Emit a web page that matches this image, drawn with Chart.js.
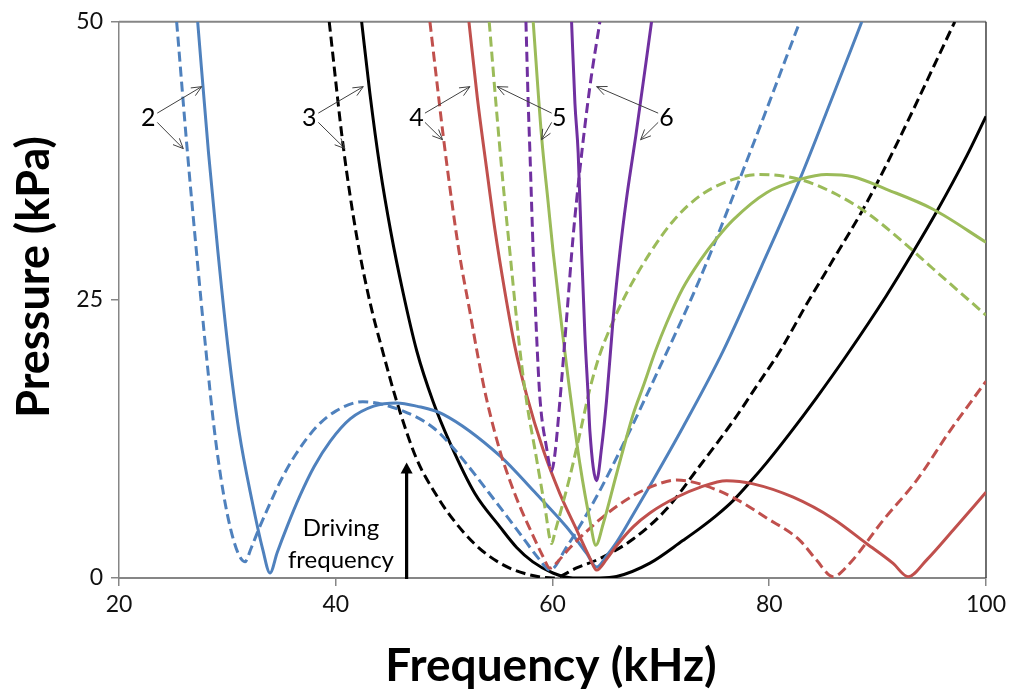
<!DOCTYPE html>
<html><head><meta charset="utf-8">
<script src="https://cdn.jsdelivr.net/npm/chart.js@4/dist/chart.umd.min.js"></script>
<style>html,body{margin:0;padding:0;background:#fff;}canvas{display:block}</style>
</head><body>
<canvas id="c" width="1011" height="693"></canvas>
<script>
// ---------- data (frequency kHz, pressure kPa) ----------
const mode2SolidFreq = [27.26, 28.26, 29.13, 30.10, 31.07, 32.27, 33.28, 33.93, 34.6, 35.5, 36.7, 38.0, 39.5, 41.33, 43.5, 45.62, 47.46, 49.92, 55.15, 58.22, 61.30, 63.15, 64.07, 65.0, 65.91, 67.44, 68.99, 72.06, 75.74, 79.28, 82.82, 85.7, 88.54];
const mode2SolidPres = [50, 38.21, 29.29, 20.36, 13.21, 6.96, 2.5, 0.45, 2.3, 4.6, 7.4, 10.0, 12.3, 14.3, 15.45, 15.74, 15.45, 14.71, 10.98, 7.86, 4.58, 2.21, 0.98, 2.0, 3.2, 5.7, 8.3, 13.6, 20.4, 28.0, 35.83, 42.9, 50];

const mode2DashFreq = [25.32, 26.32, 27.15, 28.03, 28.81, 29.59, 30.33, 31.07, 31.62, 32.2, 32.9, 33.93, 35.0, 36.3, 38.24, 40.0, 42.5, 46.23, 49.0, 50.54, 55.15, 56.99, 58.84, 59.76, 61.30, 62.83, 64.37, 66.83, 69.29, 73.60, 78.21, 82.82];
const mode2DashPres = [50, 38.21, 29.29, 20.36, 13.21, 7.86, 4.29, 2.05, 1.46, 2.7, 4.4, 6.7, 8.9, 11.1, 13.6, 15.0, 15.85, 15.0, 13.51, 12.03, 6.37, 3.99, 1.61, 0.71, 2.79, 5.18, 7.86, 12.62, 17.68, 26.9, 38.21, 50];

const mode3SolidFreq = [42.39, 43.15, 44.08, 45.09, 46.20, 47.49, 48.97, 50.54, 52.84, 55.15, 56.69, 58.19, 60.04, 61.88, 64.37, 65.91, 68.99, 72.06, 73.60, 75.14, 76.67, 78.21, 79.75, 81.90, 84.36, 87.13, 90.82, 93.27, 95.43, 98.20, 100];
const mode3SolidPres = [50, 43.57, 36.88, 31.07, 25.71, 20.36, 15.89, 12.14, 7.59, 4.6, 2.75, 1.45, 0.45, 0, 0, 0.13, 1.34, 3.39, 4.46, 5.63, 6.96, 8.6, 10.35, 13.0, 16.2, 20.0, 25.4, 29.3, 32.9, 37.9, 41.5];

const mode3DashFreq = [39.40, 40.69, 41.92, 43.15, 44.38, 45.62, 47.46, 49.31, 50.54, 52.84, 55.15, 57.45, 60.04, 62.22, 64.37, 67.44, 70.52, 73.60, 76.67, 79.13, 80.97, 83.44, 85.89, 88.66, 91.28, 97.12];
const mode3DashPres = [50, 38.81, 30.78, 24.82, 20.2, 15.89, 10.71, 7.41, 5.63, 3.04, 1.34, 0.4, 0, 0.9, 1.75, 3.5, 6.2, 10.09, 14.11, 17.68, 20.36, 24.6, 28.6, 33.15, 38.06, 50];

const mode4SolidFreq = [52.29, 53.07, 53.91, 54.69, 55.61, 56.53, 57.64, 59.11, 60.68, 62.25, 63.45, 64.07, 65.0, 65.91, 67.44, 68.99, 71.45, 73.60, 76.06, 78.51, 82.21, 85.89, 88.97, 91.43, 92.81, 94.51, 96.96, 100];
const mode4SolidPres = [50, 43.13, 36.88, 31.3, 25.71, 20.80, 16.34, 11.61, 7.59, 4.29, 1.79, 0.71, 1.7, 2.9, 4.6, 5.85, 7.26, 8.15, 8.75, 8.46, 7.26, 5.33, 3.1, 1.31, 0.12, 1.61, 4.29, 7.71];

const mode4DashFreq = [48.69, 49.24, 49.92, 50.72, 51.46, 52.38, 53.12, 53.92, 55.15, 56.07, 56.99, 58.19, 59.11, 59.76, 60.6, 61.5, 63.15, 64.98, 67.44, 69.91, 71.45, 73.60, 76.67, 79.75, 82.82, 84.36, 85.89, 87.42, 90.50, 93.58, 96.66, 100];
const mode4DashPres = [50, 45.36, 39.73, 33.75, 28.84, 23.93, 19.91, 16.07, 11.43, 8.75, 6.43, 3.84, 1.96, 0.89, 1.6, 2.6, 4.2, 5.75, 7.4, 8.5, 8.81, 8.46, 7.23, 5.4, 3.39, 1.61, 0.12, 1.31, 5.18, 8.75, 13.21, 17.68];

const mode5SolidFreq = [58.22, 58.99, 59.60, 60.06, 60.98, 61.45, 62.53, 63.45, 64.0, 64.68, 65.91, 67.44, 68.37, 69.5, 70.52, 72.0, 73.60, 75.13, 76.67, 79.75, 82.82, 85.28, 87.73, 90.82, 95.12, 100];
const mode5SolidPres = [50, 39.7, 33.75, 29.29, 21.6, 17.9, 10.24, 5.18, 2.95, 4.88, 9.35, 14.7, 17.23, 20.4, 22.9, 26.0, 28.5, 30.5, 32.2, 34.64, 35.83, 36.28, 36.07, 34.94, 33.15, 30.18];

const mode5DashFreq = [54.16, 54.78, 55.43, 56.07, 56.68, 57.15, 57.7, 58.35, 59.30, 59.92, 60.22, 60.9, 61.6, 62.53, 63.45, 64.3, 65.29, 66.83, 68.99, 71.14, 73.60, 76.67, 79.13, 82.82, 85.89, 88.97, 92.04, 95.12, 100];
const mode5DashPres = [50, 42.68, 35.54, 29.29, 23.33, 19.2, 15.3, 11.72, 6.37, 3.1, 4.1, 6.5, 9.1, 13.0, 17.0, 19.9, 22.4, 25.6, 29.2, 32.1, 34.35, 35.83, 36.28, 35.83, 34.64, 32.86, 30.47, 27.8, 23.63];

const mode6SolidFreq = [61.76, 62.07, 62.37, 62.69, 62.99, 63.30, 63.45, 64.07, 64.53, 64.98, 65.60, 66.22, 66.83, 67.45, 67.68, 69.14];
const mode6SolidPres = [50, 42.68, 38.21, 29.29, 21.85, 16.19, 13.21, 8.75, 11.72, 15.89, 23.33, 29.29, 34.1, 38.21, 39.7, 50];

const mode6DashFreq = [57.55, 57.76, 57.92, 58.22, 58.53, 58.84, 59.45, 59.91, 60.22, 60.68, 61.30, 61.91, 62.53, 63.45, 64.37];
const mode6DashPres = [50, 42.68, 38.21, 29.29, 21.85, 16.19, 11.72, 9.64, 11.13, 15.89, 23.33, 30.78, 36.73, 44.17, 50];

// axis ticks
const xTicks = [20, 40, 60, 80, 100];
const yTicks = [0, 25, 50];

// annotation: mode labels and arrows (data coordinates)
const modeLabels = ['2', '3', '4', '5', '6'];
const labelFreq = [22.70, 37.56, 47.46, 60.62, 70.53];
const labelPres = [41.34, 41.34, 41.34, 41.34, 41.34];
const arrowFromFreq = [23.53, 23.53, 38.39, 38.39, 48.23, 48.23, 59.92, 59.92, 69.75, 69.75];
const arrowFromPres = [41.79, 40.96, 41.79, 40.96, 41.79, 40.96, 41.79, 40.96, 41.79, 40.96];
const arrowToFreq = [27.63, 25.93, 42.54, 40.85, 52.38, 49.86, 54.90, 58.99, 64.07, 68.13];
const arrowToPres = [44.17, 38.6, 44.17, 38.6, 44.17, 39.4, 44.17, 39.4, 44.17, 39.4];
const drivingFreq = 46.54;
const drivingArrowTop = 10.38;
const drivingText = ['Driving', 'frequency'];
const drivingTextFreq = 40.48;
const drivingTextPres = [3.75, 0.87];

// ---------- styles ----------
const FONT = 'Lato, "Open Sans", "DejaVu Sans", sans-serif';
const BLUE = '#4F81BD', RED = '#C0504D', GREEN = '#9BBB59', PURPLE = '#7030A0', BLACK = '#000000';
const AXIS = '#868686';

function pts(fs, ps) { return fs.map((f, i) => ({x: f, y: ps[i]})); }
function ds(label, fs, ps, color, dashed) {
  return {
    label, data: pts(fs, ps), borderColor: color, backgroundColor: color,
    borderWidth: 3, borderDash: dashed ? [10, 5] : [], pointRadius: 0,
    cubicInterpolationMode: 'monotone', fill: false
  };
}
const datasets = [
  ds('Mode 6 (solid)', mode6SolidFreq, mode6SolidPres, PURPLE, false),
  ds('Mode 6 (dashed)', mode6DashFreq, mode6DashPres, PURPLE, true),
  ds('Mode 5 (solid)', mode5SolidFreq, mode5SolidPres, GREEN, false),
  ds('Mode 5 (dashed)', mode5DashFreq, mode5DashPres, GREEN, true),
  ds('Mode 4 (solid)', mode4SolidFreq, mode4SolidPres, RED, false),
  ds('Mode 4 (dashed)', mode4DashFreq, mode4DashPres, RED, true),
  ds('Mode 2 (solid)', mode2SolidFreq, mode2SolidPres, BLUE, false),
  ds('Mode 2 (dashed)', mode2DashFreq, mode2DashPres, BLUE, true),
  ds('Mode 3 (solid)', mode3SolidFreq, mode3SolidPres, BLACK, false),
  ds('Mode 3 (dashed)', mode3DashFreq, mode3DashPres, BLACK, true)
];

function openArrow(ctx, x1, y1, x2, y2, len) {
  const a = Math.atan2(y2 - y1, x2 - x1);
  ctx.beginPath();
  ctx.moveTo(x1, y1); ctx.lineTo(x2, y2);
  ctx.moveTo(x2 - len * Math.cos(a - 0.42), y2 - len * Math.sin(a - 0.42));
  ctx.lineTo(x2, y2);
  ctx.lineTo(x2 - len * Math.cos(a + 0.42), y2 - len * Math.sin(a + 0.42));
  ctx.stroke();
}

const frame = {
  id: 'frame',
  beforeDatasetsDraw(chart) {
    const {ctx, chartArea: a} = chart;
    ctx.save();
    ctx.strokeStyle = AXIS; ctx.lineWidth = 2;
    ctx.beginPath(); ctx.moveTo(a.left, a.top); ctx.lineTo(a.right, a.top); ctx.stroke();
    ctx.strokeStyle = '#404040'; ctx.lineWidth = 1.5;
    ctx.beginPath(); ctx.moveTo(a.right, a.top); ctx.lineTo(a.right, a.bottom); ctx.stroke();
    ctx.restore();
  },
  afterDatasetsDraw(chart) {
    const {ctx, scales: {x, y}} = chart;
    ctx.save();
    ctx.fillStyle = '#000';
    ctx.font = '25px ' + FONT;
    ctx.textAlign = 'center'; ctx.textBaseline = 'middle';
    modeLabels.forEach((t, i) => ctx.fillText(t, x.getPixelForValue(labelFreq[i]), y.getPixelForValue(labelPres[i])));
    ctx.strokeStyle = '#404040'; ctx.lineWidth = 1;
    arrowFromFreq.forEach((f, i) => openArrow(ctx,
      x.getPixelForValue(f), y.getPixelForValue(arrowFromPres[i]),
      x.getPixelForValue(arrowToFreq[i]), y.getPixelForValue(arrowToPres[i]), 11));
    ctx.font = '24px ' + FONT;
    ctx.textBaseline = 'alphabetic';
    drivingText.forEach((t, i) => ctx.fillText(t, x.getPixelForValue(drivingTextFreq), y.getPixelForValue(drivingTextPres[i])));
    const dx = x.getPixelForValue(drivingFreq), y0 = y.getPixelForValue(0), yt = y.getPixelForValue(drivingArrowTop);
    ctx.strokeStyle = '#000'; ctx.lineWidth = 3.2;
    ctx.beginPath(); ctx.moveTo(dx, y0 + 1); ctx.lineTo(dx, yt + 9); ctx.stroke();
    ctx.beginPath(); ctx.moveTo(dx, yt); ctx.lineTo(dx - 6, yt + 11); ctx.lineTo(dx + 6, yt + 11); ctx.closePath(); ctx.fill();
    ctx.restore();
  },
  afterDraw(chart) {
    const {ctx} = chart;
    ctx.save();
    ctx.fillStyle = '#000';
    ctx.font = 'bold 46px ' + FONT;
    ctx.textAlign = 'center'; ctx.textBaseline = 'alphabetic';
    ctx.fillText('Frequency (kHz)', 551, 681);
    ctx.font = 'bold 45px ' + FONT;
    ctx.translate(49, 277); ctx.rotate(-Math.PI / 2);
    ctx.fillText('Pressure (kPa)', 0, 0);
    ctx.restore();
  }
};

new Chart(document.getElementById('c'), {
  type: 'line',
  data: {datasets},
  options: {
    responsive: false, devicePixelRatio: 1, animation: false,
    layout: {padding: {top: 18, right: 25, left: 0, bottom: 0}},
    plugins: {legend: {display: false}, tooltip: {enabled: false}, title: {display: false}},
    scales: {
      x: {
        type: 'linear', min: 20, max: 100,
        afterBuildTicks(s) { s.ticks = xTicks.map(v => ({value: v})); },
        ticks: {font: {family: FONT, size: 23}, color: '#111', padding: 5, maxRotation: 0},
        grid: {drawOnChartArea: false, drawTicks: true, tickLength: 8, color: AXIS, lineWidth: 1.5},
        border: {display: true, color: AXIS, width: 2},
        afterFit(s) { s.height = 115; }
      },
      y: {
        type: 'linear', min: 0, max: 50,
        afterBuildTicks(s) { s.ticks = yTicks.map(v => ({value: v})); },
        ticks: {font: {family: FONT, size: 23}, color: '#111', padding: 8},
        grid: {drawOnChartArea: false, drawTicks: true, tickLength: 8, color: AXIS, lineWidth: 1.5},
        border: {display: true, color: AXIS, width: 1.5},
        afterFit(s) { s.width = 119; }
      }
    }
  },
  plugins: [frame]
});
</script>
</body></html>
